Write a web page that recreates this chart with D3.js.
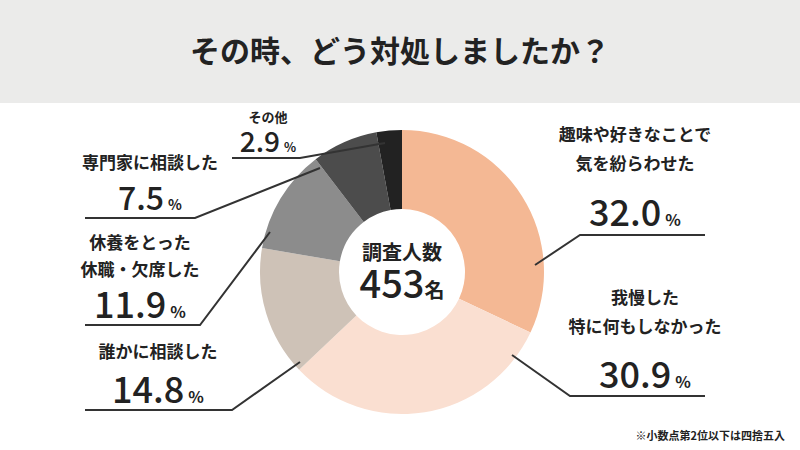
<!DOCTYPE html>
<html><head><meta charset="utf-8">
<script src="https://cdn.jsdelivr.net/npm/d3@7"></script>
<style>body{margin:0;background:#fff}svg{display:block;font-family:"Noto Sans CJK JP",sans-serif}</style>
</head><body><svg id="c" width="800" height="450"></svg>
<script>
const categories=["趣味や好きなことで気を紛らわせた","我慢した特に何もしなかった","誰かに相談した","休養をとった休職・欠席した","専門家に相談した","その他"];
const values=[32.0,30.9,14.8,11.9,7.5,2.9];
const colors=["#F4B894","#FADFD1","#CEC2B7","#8C8C8C","#4C4C4C","#222222"];
const labelLines=[["趣味や好きなことで","気を紛らわせた"],["我慢した","特に何もしなかった"],["誰かに相談した"],["休養をとった","休職・欠席した"],["専門家に相談した"],["その他"]];
const lay=[
 {tx:635,ly:[135,164],vy:226,vs:36,ux:[580,705],uy:235,p:[535,265],end:[580,235]},
 {tx:645,ly:[298,327],vy:388,vs:36,ux:[570,705],uy:396,p:[512,355],end:[570,396]},
 {tx:158,ly:[352],vy:403,vs:36,ux:[85,232],uy:410,p:[300,362],end:[232,410]},
 {tx:140,ly:[243,270],vy:318,vs:36,ux:[85,200],uy:325,p:[270,232],end:[200,325]},
 {tx:150,ly:[163],vy:210,vs:32,ux:[85,195],uy:218,p:[320,168],end:[195,218]},
 {tx:268,ly:[116],vy:152,vs:28,ux:[232,300],uy:158,p:[385,143],end:[300,158]}
];
const svg=d3.select("#c");
svg.append("rect").attr("width",800).attr("height",103).attr("fill","#EBEBEA");
svg.append("text").attr("x",400).attr("y",62).attr("text-anchor","middle").attr("font-size",30).attr("font-weight",700).attr("fill","#222").text("その時、どう対処しましたか？");
const cx=402,cy=272;
const pie=d3.pie().sort(null)(values);
const arc=d3.arc().innerRadius(63).outerRadius(142);
const g=svg.append("g").attr("transform",`translate(${cx},${cy})`);
g.selectAll("path").data(pie).join("path").attr("d",arc).attr("fill",(d,i)=>colors[i]);
svg.append("text").attr("x",cx).attr("y",cy-12).attr("text-anchor","middle").attr("font-size",20).attr("font-weight",700).attr("fill","#222").text("調査人数");
const t=svg.append("text").attr("x",cx).attr("y",cy+26).attr("text-anchor","middle").attr("fill","#222").attr("font-weight",500);
t.append("tspan").attr("font-size",38).text("453");t.append("tspan").attr("font-size",20).attr("font-weight",700).text("名");
lay.forEach((L,i)=>{
  const far=L.end[0]===L.ux[1]?L.ux[0]:L.ux[1];
  svg.append("polyline").attr("points",[L.p,L.end,[far,L.uy]].map(p=>p.join(",")).join(" ")).attr("fill","none").attr("stroke","#333").attr("stroke-width",2);
  labelLines[i].forEach((s,j)=>svg.append("text").attr("x",L.tx).attr("y",L.ly[j]+6).attr("text-anchor","middle").attr("font-size",i===5?13:17).attr("font-weight",700).attr("fill","#222").text(s));
  const v=svg.append("text").attr("x",L.tx).attr("y",L.vy).attr("text-anchor","middle").attr("font-weight",500).attr("fill","#222");
  v.append("tspan").attr("font-size",L.vs).text(values[i].toFixed(1));
  v.append("tspan").attr("font-size",L.vs*0.45).attr("font-weight",700).attr("dx",4).text("%");
});
svg.append("text").attr("x",785).attr("y",440).attr("text-anchor","end").attr("font-size",11).attr("font-weight",700).attr("fill","#222").text("※小数点第2位以下は四捨五入");
</script></body></html>
